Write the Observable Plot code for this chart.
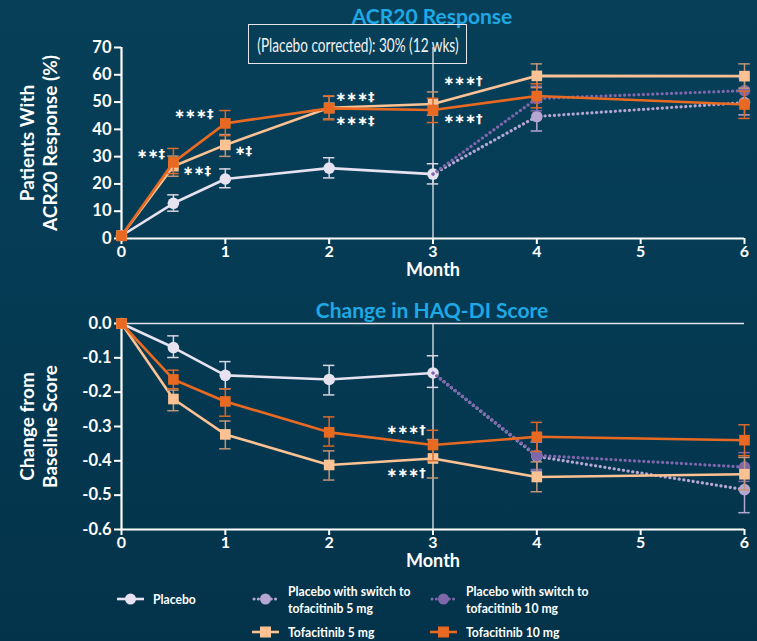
<!DOCTYPE html>
<html>
<head>
<meta charset="utf-8">
<script src="https://cdn.jsdelivr.net/npm/d3@7"></script>
<script src="https://cdn.jsdelivr.net/npm/@observablehq/plot@0.6"></script>
<style>
  html, body { margin: 0; padding: 0; }
  body {
    width: 757px; height: 641px; overflow: hidden;
    background: linear-gradient(180deg, #073f59 0%, #053a53 50%, #03334a 100%);
    font-family: Lato, "Open Sans", sans-serif; color: white; position: relative;
  }
  .abs { position: absolute; }
  .title { font-weight: 700; font-size: 21px; color: #1ea8e4; width: 400px; text-align: center; left: 232px; white-space: nowrap; }
  .box { left: 248px; top: 24px; width: 219px; height: 40px; border: 1.3px solid #e6e6ea; box-sizing: border-box;
         font-size: 20px; color: #f2f2f2; white-space: nowrap; overflow: visible;
         display: flex; justify-content: center; align-items: center; }
  .box span { display: inline-block; flex: none; transform: scaleX(0.68); transform-origin: center; }
  .leg { font-weight: 700; font-size: 13.5px; line-height: 16px; height: 16px; white-space: nowrap; transform: scaleX(0.9); transform-origin: left center; }
  svg.sw { position: absolute; overflow: visible; }
</style>
</head>
<body>
<div id="top" class="abs" style="left:0;top:0"></div>
<div id="bot" class="abs" style="left:0;top:290px"></div>
<div class="abs title" style="top:3px">ACR20 Response</div>
<div class="abs box"><span>(Placebo corrected): 30% (12 wks)</span></div>
<div class="abs title" style="top:297px">Change in HAQ-DI Score</div>
<div id="legend"></div>
<script>
// ---------- data ----------
const xTicks = [0, 1, 2, 3, 4, 5, 6];
const acrTicks = [0, 10, 20, 30, 40, 50, 60, 70];
const haqTicks = [0, -0.1, -0.2, -0.3, -0.4, -0.5, -0.6];

const monthsMain = [0, 0.5, 1, 2, 3];
const monthsTofa = [0, 0.5, 1, 2, 3, 4, 6];
const monthsSwitch = [3, 4, 6];

// ACR20 (%)
const placeboAcr   = [1, 12.9, 21.8, 25.8, 23.6];
const placeboAcrLo = [null, 10, 18.6, 22.2, 20];
const placeboAcrHi = [null, 16, 25.5, 29.6, 27.4];
const sw5Acr   = [23.6, 44.7, 49.8];
const sw5AcrLo = [null, 39.4, 45.3];
const sw5AcrHi = [null, 50, 54.3];
const sw10Acr   = [23.6, 51.3, 54.2];
const sw10AcrLo = [null, 46.8, 49.6];
const sw10AcrHi = [null, 55.8, 58.6];
const t5Acr   = [1, 26.5, 34.3, 47.9, 49.3, 59.6, 59.5];
const t5AcrLo = [null, 22.8, 30.1, 43.8, 45.2, 55.3, 55.1];
const t5AcrHi = [null, 30.2, 38.1, 52.1, 53.7, 64, 64];
const t10Acr   = [1, 27.9, 42.2, 47.7, 47.1, 52.2, 49.1];
const t10AcrLo = [null, 23.8, 37.7, 43.5, 42.5, 47.9, 44];
const t10AcrHi = [null, 33, 46.9, 52.3, 51.4, 56.7, 54];

// HAQ-DI change
const placeboHaq   = [0, -0.07, -0.151, -0.163, -0.144];
const placeboHaqLo = [null, -0.099, -0.19, -0.208, -0.186];
const placeboHaqHi = [null, -0.036, -0.111, -0.122, -0.094];
const sw5Haq   = [-0.144, -0.387, -0.484];
const sw5HaqLo = [null, -0.43, -0.551];
const sw5HaqHi = [null, -0.345, -0.42];
const sw10Haq   = [-0.144, -0.384, -0.418];
const sw10HaqLo = [null, -0.425, -0.46];
const sw10HaqHi = [null, -0.343, -0.376];
const t5Haq   = [0, -0.22, -0.323, -0.412, -0.393, -0.447, -0.439];
const t5HaqLo = [null, -0.254, -0.365, -0.456, -0.45, -0.49, -0.485];
const t5HaqHi = [null, -0.194, -0.284, -0.371, -0.338, -0.403, -0.39];
const t10Haq   = [0, -0.163, -0.227, -0.317, -0.354, -0.33, -0.34];
const t10HaqLo = [null, -0.19, -0.27, -0.357, -0.4, -0.373, -0.385];
const t10HaqHi = [null, -0.136, -0.19, -0.272, -0.311, -0.288, -0.295];

// significance annotations
const acrNoteText = ["∗∗‡", "∗∗‡", "∗∗∗‡", "∗‡", "∗∗∗‡", "∗∗∗‡", "∗∗∗†", "∗∗∗†"];
const acrNoteX    = [0.42, 0.59, 0.885, 1.09, 2.06, 2.06, 3.1, 3.1];
const acrNoteY    = [31.2, 24.7, 45.7, 32.2, 52.1, 43, 57.9, 43.8];
const acrNoteSide = ["end", "start", "end", "start", "start", "start", "start", "start"];
const haqNoteText = ["∗∗∗†", "∗∗∗†"];
const haqNoteX    = [2.93, 2.93];
const haqNoteY    = [-0.311, -0.435];
const haqNoteSide = ["end", "end"];

// ---------- styles ----------
const C = {
  placebo: "#e6e2ef", placeboErr: "#d8d6e2",
  sw5: "#b6a6d2", sw10: "#7f67ab",
  t5: "#fcc293", t5Err: "#c09676",
  t10: "#e86a22", t10Err: "#d9692c"
};
const FONT = "Lato, 'Open Sans', sans-serif";

function rows(xs, ys, lo, hi) {
  return xs.map((x, i) => ({x, y: ys[i], lo: lo[i], hi: hi[i]}));
}
function notes(t, xs, ys, side) {
  return t.map((s, i) => ({text: s, x: xs[i], y: ys[i], side: side[i]}));
}

function seriesMarks(data, color, errColor, symbol, dotted, noFirstDot) {
  const err = data.filter(d => d.lo != null);
  const cap = 0.055;
  return [
    Plot.line(data, {x: "x", y: "y", stroke: color, strokeWidth: dotted ? 3.2 : 2.6,
      strokeDasharray: dotted ? "0.1 4.6" : null, strokeLinecap: dotted ? "round" : "butt"}),
    Plot.ruleX(err, {x: "x", y1: "lo", y2: "hi", stroke: errColor, strokeWidth: 1.5}),
    Plot.ruleY(err, {y: "lo", x1: d => d.x - cap, x2: d => d.x + cap, stroke: errColor, strokeWidth: 1.5}),
    Plot.ruleY(err, {y: "hi", x1: d => d.x - cap, x2: d => d.x + cap, stroke: errColor, strokeWidth: 1.5}),
    Plot.dot(noFirstDot ? data.slice(1) : data, {x: "x", y: "y", fill: color, stroke: "none",
      symbol, r: symbol === "square" ? 6 : 5.8})
  ];
}

function chart({yDomain, yTicks, fmt, height, mt, mb, series, noteData, label, zeroLine}) {
  const marks = [
    Plot.ruleX([3], {y1: yDomain[0], y2: yDomain[1], stroke: "#e4e4ea", strokeWidth: 1.3}),
  ];
  if (zeroLine) marks.push(Plot.ruleY([0], {x1: 0, x2: 6, stroke: "#e4e4ea", strokeWidth: 1.3}));
  marks.push(
    Plot.ruleY([yDomain[0]], {x1: 0, x2: 6, stroke: "white", strokeWidth: 2.2}),
    Plot.ruleX([0], {y1: yDomain[0], y2: yDomain[1], stroke: "white", strokeWidth: 2.2}),
    Plot.axisX({ticks: xTicks, tickSize: 6, tickPadding: 1, tickFormat: d => String(d), label: null,
      fontSize: 16, fontWeight: "bold", stroke: "white", strokeWidth: 2, fill: "white"}),
    Plot.axisY({ticks: yTicks, tickSize: 7, tickPadding: 3, tickFormat: fmt, label: null,
      fontSize: 16.5, fontWeight: "bold", stroke: "white", strokeWidth: 2, fill: "white"}),
    Plot.text(["Month"], {frameAnchor: "bottom", dy: 32, lineAnchor: "middle", fontSize: 18, fontWeight: "bold", fill: "white"}),
    Plot.text([label], {frameAnchor: "left", dx: -83, rotate: -90, lineAnchor: "middle", lineHeight: 1.2,
      fontSize: 19, fontWeight: "bold", fill: "white", textAnchor: "middle"})
  );
  series.forEach(s => marks.push(...s));
  const startN = noteData.filter(d => d.side === "start");
  const endN = noteData.filter(d => d.side === "end");
  const noteStyle = {x: "x", y: "y", text: "text", fill: "white", fontSize: 13, fontWeight: "bold",
    fontFamily: "'DejaVu Sans', sans-serif"};
  marks.push(
    Plot.text(startN, {...noteStyle, textAnchor: "start"}),
    Plot.text(endN, {...noteStyle, textAnchor: "end"})
  );
  return Plot.plot({
    width: 757, height, marginLeft: 121, marginRight: 13, marginTop: mt, marginBottom: mb,
    style: {background: "transparent", color: "white", fontFamily: FONT, overflow: "visible"},
    x: {domain: [0, 6]},
    y: {domain: yDomain},
    marks
  });
}

const topSeries = [
  seriesMarks(rows(monthsMain, placeboAcr, placeboAcrLo, placeboAcrHi), C.placebo, C.placeboErr, "circle", false),
  seriesMarks(rows(monthsSwitch, sw5Acr, sw5AcrLo, sw5AcrHi), C.sw5, C.sw5, "circle", true, true),
  seriesMarks(rows(monthsSwitch, sw10Acr, sw10AcrLo, sw10AcrHi), C.sw10, C.sw10, "circle", true, true),
  seriesMarks(rows(monthsTofa, t5Acr, t5AcrLo, t5AcrHi), C.t5, C.t5Err, "square", false),
  seriesMarks(rows(monthsTofa, t10Acr, t10AcrLo, t10AcrHi), C.t10, C.t10Err, "square", false)
];
const botSeries = [
  seriesMarks(rows(monthsMain, placeboHaq, placeboHaqLo, placeboHaqHi), C.placebo, C.placeboErr, "circle", false),
  seriesMarks(rows(monthsSwitch, sw5Haq, sw5HaqLo, sw5HaqHi), C.sw5, C.sw5, "circle", true, true),
  seriesMarks(rows(monthsSwitch, sw10Haq, sw10HaqLo, sw10HaqHi), C.sw10, C.sw10, "circle", true, true),
  seriesMarks(rows(monthsTofa, t5Haq, t5HaqLo, t5HaqHi), C.t5, C.t5Err, "square", false),
  seriesMarks(rows(monthsTofa, t10Haq, t10HaqLo, t10HaqHi), C.t10, C.t10Err, "square", false)
];

document.getElementById("top").append(chart({
  yDomain: [0, 70], yTicks: acrTicks, fmt: d => String(d), height: 280, mt: 47, mb: 42,
  series: topSeries, label: "Patients With\nACR20 Response (%)", zeroLine: false,
  noteData: notes(acrNoteText, acrNoteX, acrNoteY, acrNoteSide)
}));

document.getElementById("bot").append(chart({
  yDomain: [-0.6, 0], yTicks: haqTicks, fmt: d => d.toFixed(1).replace("-0.0", "0.0"), height: 280, mt: 33, mb: 41,
  series: botSeries, label: "Change from\nBaseline Score", zeroLine: true,
  noteData: notes(haqNoteText, haqNoteX, haqNoteY, haqNoteSide)
}));

// ---------- legend ----------
const legendItems = [
  {label: "Placebo", color: C.placebo, symbol: "circle", dotted: false},
  {label: "Placebo with switch to\ntofacitinib 5 mg", color: C.sw5, symbol: "circle", dotted: true},
  {label: "Placebo with switch to\ntofacitinib 10 mg", color: C.sw10, symbol: "circle", dotted: true},
  {label: "Tofacitinib 5 mg", color: C.t5, symbol: "square", dotted: false},
  {label: "Tofacitinib 10 mg", color: C.t10, symbol: "square", dotted: false}
];
const legendPos = [[117, 599], [252, 599], [430, 599], [252, 632], [430, 632]];
const lg = document.getElementById("legend");
legendItems.forEach((it, i) => {
  const [lx, ly] = legendPos[i];
  const sw = document.createElementNS("http://www.w3.org/2000/svg", "svg");
  sw.setAttribute("class", "sw");
  sw.setAttribute("width", 28); sw.setAttribute("height", 14);
  sw.style.left = lx + "px"; sw.style.top = (ly - 7) + "px";
  const line = it.dotted
    ? `<line x1="2" x2="27" y1="7" y2="7" stroke="${it.color}" stroke-width="3" stroke-dasharray="0.1 4.2" stroke-linecap="round"/>`
    : `<line x1="0" x2="27" y1="7" y2="7" stroke="${it.color}" stroke-width="2.6"/>`;
  const mk = it.symbol === "circle"
    ? `<circle cx="13.5" cy="7" r="5.5" fill="${it.color}"/>`
    : `<rect x="8" y="1.5" width="11" height="11" fill="${it.color}"/>`;
  sw.innerHTML = line + mk;
  lg.append(sw);
  const lines = it.label.split("\n");
  const tops = lines.length === 1 ? [ly - 8] : [ly - 16.5, ly + 0.5];
  lines.forEach((s, k) => {
    const t = document.createElement("div");
    t.className = "abs leg";
    t.textContent = s;
    t.style.left = (lx + 36) + "px";
    t.style.top = tops[k] + "px";
    lg.append(t);
  });
});
</script>
</body>
</html>
